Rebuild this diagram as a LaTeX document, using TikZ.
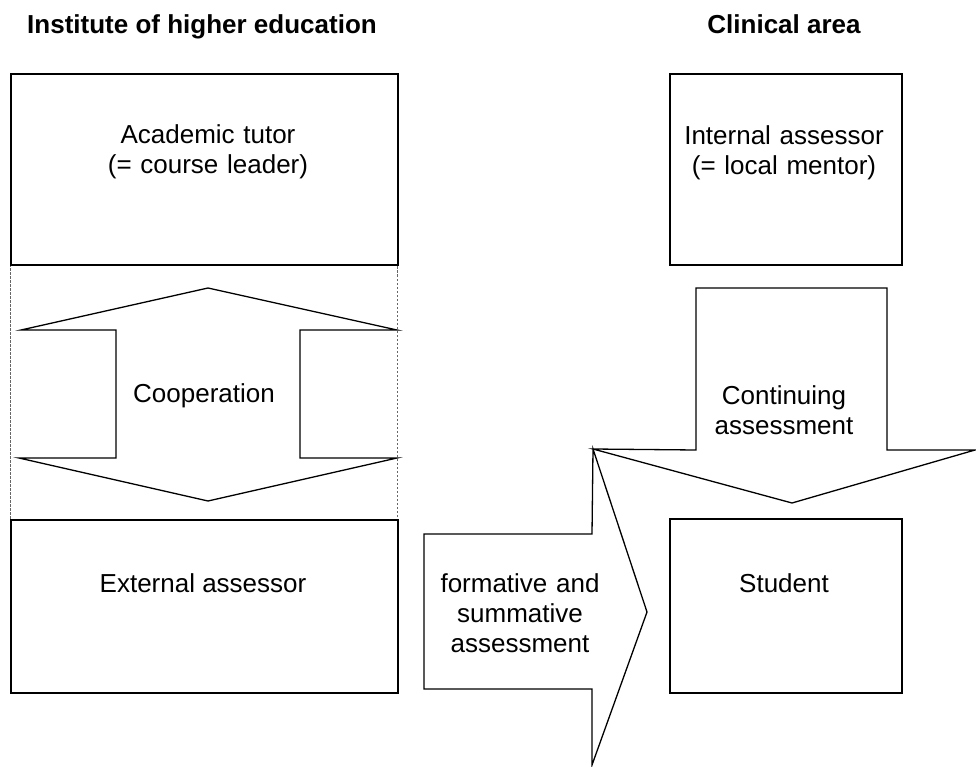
\documentclass[tikz,border=0pt]{standalone}
\usepackage{fontspec}
\setmainfont{Liberation Sans}
\begin{document}
\begin{tikzpicture}[x=1pt,y=-1pt,
  every node/.style={font=\fontsize{26}{30}\selectfont, inner sep=0pt, anchor=base},
  lines/.style={text width=300pt, align=center},
  heading/.style={font=\fontsize{26}{30}\selectfont\bfseries},
  box/.style={draw, line width=2.2pt, rectangle, anchor=north west},
  bigarrow/.style={draw, line width=1.3pt, fill=white, line join=miter},
  frame/.style={draw=gray!80!black, line width=0.8pt, dash pattern=on 2.5pt off 1.5pt}]
\useasboundingbox (0,0) rectangle (976,767);

% column headings
\node[heading] (hInst) at (202,34) {Institute of higher education};
\node[heading] (hClin) at (784,34) {Clinical area};

% dashed frame joining the two university boxes
\draw[frame] (10,264) rectangle (397,519);

% boxes
\node[box, minimum width=387pt, minimum height=191pt] (tutor) at (10,73) {};
\node[box, minimum width=387pt, minimum height=173pt] (external) at (10,519) {};
\node[box, minimum width=232pt, minimum height=191pt] (internal) at (669,73) {};
\node[box, minimum width=232pt, minimum height=174pt] (student) at (669,518) {};

\node[lines] (tTutor) at (208,144) {Academic tutor\\(= course leader)};
\node (tExternal) at (203,592) {External assessor};
\node[lines] (tInternal) at (784,145) {Internal assessor\\(= local mentor)};
\node (tStudent) at (784,592) {Student};

% two-headed cooperation arrow
\draw[bigarrow] (208,288) -- (397,330) -- (300,330) -- (300,458) -- (397,458)
  -- (208,501) -- (19,458) -- (116,458) -- (116,330) -- (21,330) -- cycle;
\node (tCoop) at (204,402) {Cooperation};

% continuing assessment arrow (down)
\draw[bigarrow] (696,288) -- (887,288) -- (887,450) -- (975,450) -- (792,503)
  -- (593,449) -- (696,450) -- cycle;
\node[lines] (tCont) at (784,404) {Continuing\\assessment};

% formative and summative assessment arrow (right)
\draw[bigarrow] (424,534) -- (592,534) -- (593,449) -- (647,612) -- (592,765)
  -- (592,689) -- (424,689) -- cycle;
\node[lines] (tForm) at (520,592) {formative and\\summative\\assessment};
\end{tikzpicture}
\end{document}
